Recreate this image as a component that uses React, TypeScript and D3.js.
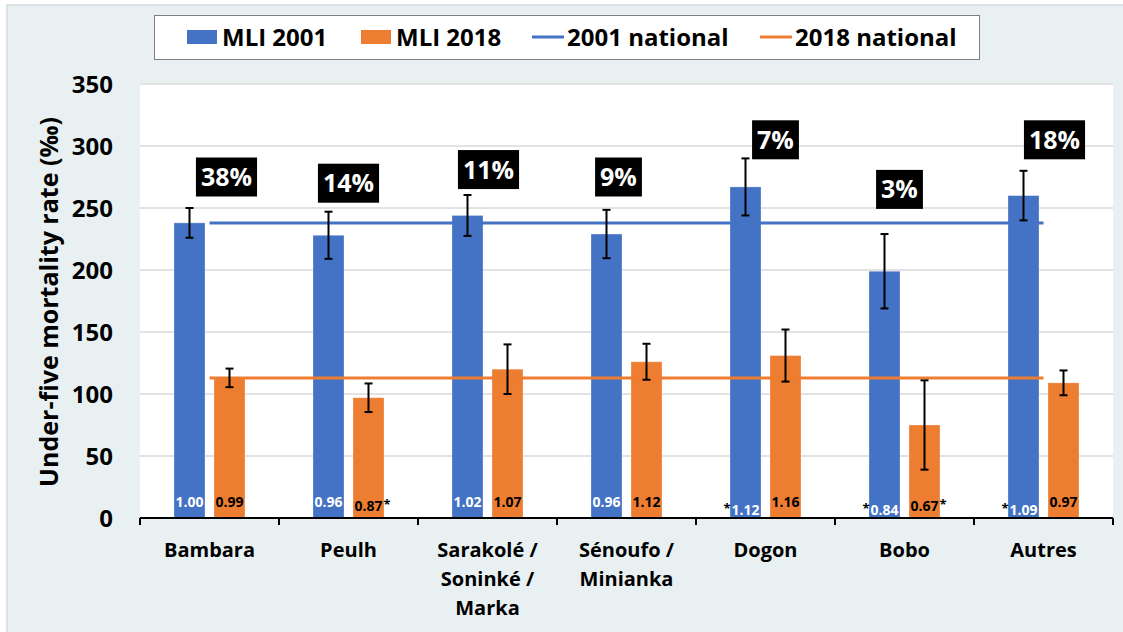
import React, { useRef, useEffect } from "react";
import * as d3 from "d3";

// ethnic groups (x axis), multi-line labels
const categories = [
  ["Bambara"],
  ["Peulh"],
  ["Sarakolé /", "Soninké /", "Marka"],
  ["Sénoufo /", "Minianka"],
  ["Dogon"],
  ["Bobo"],
  ["Autres"],
];

const mli2001 = [238, 228, 244, 229, 267, 199, 260];
const mli2001Err = [12, 19, 16.5, 19.5, 23, 30, 20];
const mli2018 = [113, 97, 120, 126, 131, 75, 109];
const mli2018Err = [7.5, 11.5, 20, 14.5, 21, 36, 10];

const national2001 = 238;
const national2018 = 113;

const ratio2001 = ["1.00", "0.96", "1.02", "0.96", "1.12", "0.84", "1.09"];
const star2001 = [false, false, false, false, true, true, true];
const ratio2018 = ["0.99", "0.87", "1.07", "1.12", "1.16", "0.67", "0.97"];
const star2018 = [false, true, false, false, false, true, false];

const pctLabels = ["38%", "14%", "11%", "9%", "7%", "3%", "18%"];
const pctLabelAt = [275, 270, 281, 275, 305, 265, 305];

const yTicks = [0, 50, 100, 150, 200, 250, 300, 350];

const BLUE = "#4472C4";
const ORANGE = "#ED7D31";
const FONT = "'Open Sans', 'Noto Sans', sans-serif";

const Chart = () => {
  const ref = useRef<SVGSVGElement>(null);

  useEffect(() => {
    const svg = d3.select(ref.current);
    svg.selectAll("*").remove();

    const W = 1123;
    const H = 632;
    const plot = { left: 140, right: 1113, top: 84, bottom: 518 };
    const pctShift = [17, 0, 1, -8, 10, -5, 11];

    // background panel
    svg.append("rect").attr("width", W).attr("height", H).attr("fill", "#ffffff");
    svg
      .append("rect")
      .attr("x", 7)
      .attr("y", 5)
      .attr("width", W + 10)
      .attr("height", H + 10)
      .attr("fill", "#E8F0F2")
      .attr("stroke", "#D3DADC")
      .attr("stroke-width", 1.5);

    svg
      .append("rect")
      .attr("x", plot.left)
      .attr("y", plot.top - 1)
      .attr("width", plot.right - plot.left)
      .attr("height", plot.bottom - plot.top + 1)
      .attr("fill", "#ffffff");

    const x = d3
      .scaleBand<number>()
      .domain(d3.range(categories.length))
      .range([plot.left, plot.right])
      .padding(0);

    const inner = d3
      .scaleBand<string>()
      .domain(["2001", "2018"])
      .range([0, x.bandwidth()])
      .paddingInner(0.225)
      .paddingOuter(0.85);

    const y = d3.scaleLinear().domain([0, 350]).range([plot.bottom, plot.top]);

    // gridlines
    svg
      .append("g")
      .selectAll("line")
      .data(yTicks.filter((t) => t > 0))
      .enter()
      .append("line")
      .attr("x1", plot.left)
      .attr("x2", plot.right)
      .attr("y1", (d) => y(d))
      .attr("y2", (d) => y(d))
      .attr("stroke", "#D9D9D9")
      .attr("stroke-width", 1.5);

    // y tick labels
    svg
      .append("g")
      .selectAll("text")
      .data(yTicks)
      .enter()
      .append("text")
      .attr("x", 113)
      .attr("y", (d) => y(d))
      .attr("dy", "0.36em")
      .attr("text-anchor", "end")
      .attr("font-family", FONT)
      .attr("font-weight", 700)
      .attr("font-size", 24)
      .attr("fill", "#000")
      .text((d) => d);

    svg
      .append("text")
      .attr("transform", `translate(49, ${(plot.top + plot.bottom) / 2 + 1}) rotate(-90)`)
      .attr("text-anchor", "middle")
      .attr("dy", "0.36em")
      .attr("font-family", FONT)
      .attr("font-weight", 700)
      .attr("font-size", 25)
      .text("Under-five mortality rate (‰)");

    const series = [
      { key: "2001", vals: mli2001, err: mli2001Err, color: BLUE },
      { key: "2018", vals: mli2018, err: mli2018Err, color: ORANGE },
    ];

    // bars
    series.forEach((s) => {
      svg
        .append("g")
        .selectAll("rect")
        .data(s.vals)
        .enter()
        .append("rect")
        .attr("x", (_, i) => x(i)! + inner(s.key)!)
        .attr("y", (d) => y(d))
        .attr("width", inner.bandwidth())
        .attr("height", (d) => y(0) - y(d))
        .attr("fill", s.color)
        .attr("stroke", "#ffffff")
        .attr("stroke-opacity", 0.35)
        .attr("stroke-width", 0.8);
    });

    // national reference lines, from first to last category centre
    const lineGen = d3
      .line<number>()
      .x((_, i) => x(i)! + x.bandwidth() / 2)
      .y((d) => y(d));

    [
      { v: national2001, color: BLUE },
      { v: national2018, color: ORANGE },
    ].forEach((l) => {
      svg
        .append("path")
        .attr("d", lineGen(categories.map(() => l.v)))
        .attr("fill", "none")
        .attr("stroke", l.color)
        .attr("stroke-width", 3);
    });

    // error bars
    series.forEach((s) => {
      const g = svg.append("g").attr("stroke", "#000").attr("stroke-width", 2);
      s.vals.forEach((v, i) => {
        const cx = x(i)! + inner(s.key)! + inner.bandwidth() / 2;
        const lo = y(v - s.err[i]);
        const hi = y(v + s.err[i]);
        g.append("line").attr("x1", cx).attr("x2", cx).attr("y1", lo).attr("y2", hi);
        g.append("line").attr("x1", cx - 4).attr("x2", cx + 4).attr("y1", lo).attr("y2", lo);
        g.append("line").attr("x1", cx - 4).attr("x2", cx + 4).attr("y1", hi).attr("y2", hi);
      });
    });

    // ratio labels at bottom of bars
    const ratioSeries = [
      { key: "2001", labels: ratio2001, stars: star2001, color: "#ffffff", starBefore: true },
      { key: "2018", labels: ratio2018, stars: star2018, color: "#000000", starBefore: false },
    ];
    ratioSeries.forEach((s) => {
      s.labels.forEach((lab, i) => {
        const cx = x(i)! + inner(s.key)! + inner.bandwidth() / 2;
        const cy = s.stars[i] ? (s.starBefore ? 510 : 506) : 502;
        const t = svg
          .append("text")
          .attr("x", cx)
          .attr("y", cy)
          .attr("dy", "0.36em")
          .attr("text-anchor", "middle")
          .attr("font-family", FONT)
          .attr("font-weight", 700)
          .attr("font-size", 14)
          .attr("fill", s.color)
          .text(lab);
        if (s.stars[i]) {
          const w = (t.node() as SVGTextElement).getComputedTextLength();
          svg
            .append("text")
            .attr("x", s.starBefore ? cx - w / 2 - 1 : cx + w / 2 + 1)
            .attr("y", cy - 2)
            .attr("dy", "0.36em")
            .attr("text-anchor", s.starBefore ? "end" : "start")
            .attr("font-family", FONT)
            .attr("font-weight", 700)
            .attr("font-size", 13)
            .attr("fill", "#000")
            .text("*");
        }
      });
    });

    // percentage boxes
    pctLabels.forEach((lab, i) => {
      const cx = x(i)! + x.bandwidth() / 2 + pctShift[i];
      const cy = y(pctLabelAt[i]);
      const g = svg.append("g");
      const box = g.append("rect").attr("fill", "#000");
      const t = g
        .append("text")
        .attr("x", cx)
        .attr("y", cy)
        .attr("dy", "0.36em")
        .attr("text-anchor", "middle")
        .attr("font-family", FONT)
        .attr("font-weight", 700)
        .attr("font-size", 25)
        .attr("fill", "#fff")
        .text(lab);
      const w = (t.node() as SVGTextElement).getComputedTextLength();
      box
        .attr("x", cx - w / 2 - 5)
        .attr("y", cy - 19.5)
        .attr("width", w + 10)
        .attr("height", 39);
    });

    // x axis
    const ax = svg.append("g").attr("stroke", "#000").attr("stroke-width", 2);
    ax.append("line")
      .attr("x1", plot.left)
      .attr("x2", plot.right)
      .attr("y1", plot.bottom)
      .attr("y2", plot.bottom);
    const bounds = d3.range(categories.length + 1).map((i) =>
      i < categories.length ? x(i)! : plot.right
    );
    ax.selectAll("line.tick")
      .data(bounds)
      .enter()
      .append("line")
      .attr("class", "tick")
      .attr("x1", (d) => d)
      .attr("x2", (d) => d)
      .attr("y1", plot.bottom)
      .attr("y2", plot.bottom + 7);

    categories.forEach((lines, i) => {
      const t = svg
        .append("text")
        .attr("text-anchor", "middle")
        .attr("font-family", FONT)
        .attr("font-weight", 700)
        .attr("font-size", 20)
        .attr("fill", "#000");
      lines.forEach((ln, j) => {
        t.append("tspan")
          .attr("x", x(i)! + x.bandwidth() / 2)
          .attr("y", 557 + j * 29)
          .text(ln);
      });
    });

    // legend
    svg
      .append("rect")
      .attr("x", 154.5)
      .attr("y", 15.5)
      .attr("width", 825)
      .attr("height", 44)
      .attr("fill", "#fff")
      .attr("stroke", "#7F7F7F")
      .attr("stroke-width", 1);

    const legendItems = [
      { label: "MLI 2001", color: BLUE, type: "rect", x: 187 },
      { label: "MLI 2018", color: ORANGE, type: "rect", x: 361 },
      { label: "2001 national", color: BLUE, type: "line", x: 532 },
      { label: "2018 national", color: ORANGE, type: "line", x: 760 },
    ];
    legendItems.forEach((it) => {
      if (it.type === "rect") {
        svg.append("rect").attr("x", it.x).attr("y", 30).attr("width", 30).attr("height", 14).attr("fill", it.color);
      } else {
        svg
          .append("line")
          .attr("x1", it.x)
          .attr("x2", it.x + 32)
          .attr("y1", 37)
          .attr("y2", 37)
          .attr("stroke", it.color)
          .attr("stroke-width", 3);
      }
      svg
        .append("text")
        .attr("x", it.x + 35)
        .attr("y", 37)
        .attr("dy", "0.36em")
        .attr("font-family", FONT)
        .attr("font-weight", 700)
        .attr("font-size", 24)
        .attr("fill", "#000")
        .text(it.label);
    });
  }, []);

  return <svg ref={ref} width={1123} height={632} style={{ display: "block" }} />;
};

export default function App() {
  return (
    <div style={{ position: "absolute", left: 0, top: 0 }}>
      <Chart />
    </div>
  );
}
